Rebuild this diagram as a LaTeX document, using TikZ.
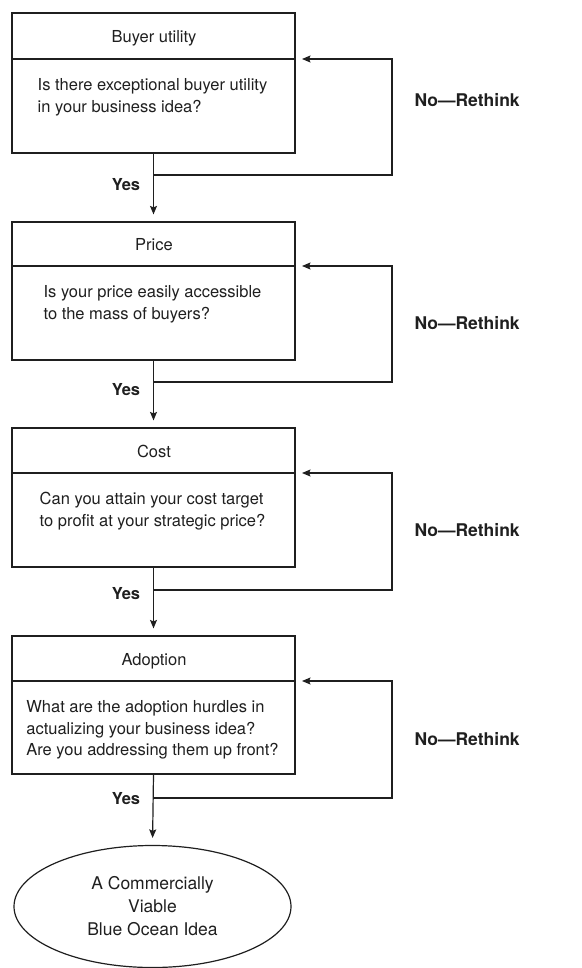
\documentclass[tikz,border=0pt]{standalone}
\usepackage{fontspec}
\setmainfont{TeX Gyre Heros}
\usetikzlibrary{arrows.meta,shapes.geometric}
\definecolor{ink}{gray}{0.12}
\begin{document}
\begin{tikzpicture}[x=1pt,y=-1pt,
  line width=1.2pt, draw=ink, text=ink,
  stage/.style={draw=ink, rectangle, minimum width=283pt, inner sep=0pt},
  head/.style={anchor=base, inner sep=0pt, font=\fontsize{16.5}{21.5}\selectfont},
  body/.style={anchor=north, inner sep=0pt, align=left, font=\fontsize{16.5}{21.5}\selectfont},
  yes/.style={inner sep=0pt, font=\fontsize{16.5}{21.5}\selectfont\bfseries},
  redo/.style={anchor=west, inner sep=0pt, font=\fontsize{17.5}{21.5}\selectfont\bfseries},
  flow/.style={draw=ink, -{Stealth[length=8.5pt,width=7pt,inset=1.5pt]}, shorten >=7pt},
  goal/.style={draw=ink, ellipse, minimum width=277pt, minimum height=122pt, inner sep=0pt,
    align=center, font=\fontsize{17.5}{23}\selectfont}]
\useasboundingbox (0,0) rectangle (581,968);

% the four test boxes
\node[stage, minimum height=140pt] (b1) at (153.5,83) {};
\node[stage, minimum height=138pt] (b2) at (153.5,291) {};
\node[stage, minimum height=139pt] (b3) at (153.5,497.5) {};
\node[stage, minimum height=138pt] (b4) at (153.5,705) {};

% dividers between title and question
\coordinate (d1) at (295,59);
\coordinate (d2) at (295,266);
\coordinate (d3) at (295,473);
\coordinate (d4) at (295,681);
\foreach \i in {1,2,3,4} \draw (b\i.west |- d\i) -- (d\i);

% titles
\node[head] (h1) at (154,43) {Buyer utility};
\node[head] (h2) at (154,251) {Price};
\node[head] (h3) at (154,457.5) {Cost};
\node[head] (h4) at (154,665.5) {Adoption};

% questions
\node[body] (q1) at (152.5,78) {Is there exceptional buyer utility\\in your business idea?};
\node[body] (q2) at (152.5,285) {Is your price easily accessible\\to the mass of buyers?};
\node[body] (q3) at (152.5,492) {Can you attain your cost target\\to profit at your strategic price?};
\node[body] (q4) at (152.5,700) {What are the adoption hurdles in\\actualizing your business idea?\\Are you addressing them up front?};

% end result
\node[goal] (goal) at (152.5,906.5) {A Commercially\\Viable\\Blue Ocean Idea};

% forward path
\draw[flow] (b1.south) -- (b2.north);
\draw[flow] (b2.south) -- (b3.north);
\draw[flow] (b3.south) -- (b4.north);
\draw[flow] (b4.south) -- (goal.north);

% rethink loops
\coordinate (j1) at (154,175);
\coordinate (j2) at (154,382);
\coordinate (j3) at (154,590);
\coordinate (j4) at (154,798);
\foreach \i in {1,2,3,4} {
  \coordinate (t\i) at (392,0 |- d\i);
  \draw[flow] (j\i) -| (t\i) -- (d\i);
}

% labels
\node[yes] (y1) at (126,185) {Yes};
\node[yes] (y2) at (126,390) {Yes};
\node[yes] (y3) at (126,594) {Yes};
\node[yes] (y4) at (126,799) {Yes};
\node[redo] (n1) at (414,100) {No—Rethink};
\node[redo] (n2) at (414,323) {No—Rethink};
\node[redo] (n3) at (414,530) {No—Rethink};
\node[redo] (n4) at (414,739) {No—Rethink};
\end{tikzpicture}
\end{document}
